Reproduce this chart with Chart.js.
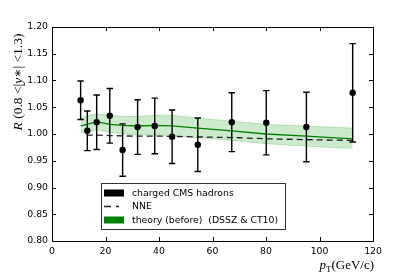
<!DOCTYPE html>
<html><head><meta charset="utf-8">
<script src="https://cdn.jsdelivr.net/npm/chart.js@4.4.1/dist/chart.umd.min.js"></script>
<style>html,body{margin:0;padding:0;background:#fff}canvas{display:block}</style>
</head><body>
<canvas id="c" width="415" height="277"></canvas>
<script>
// ---- data ----
const pt = [10.7, 13.2, 16.7, 21.6, 26.4, 32.0, 38.4, 44.9, 54.5, 67.2, 80.1, 95.1, 112.4];
const ratio = [1.063, 1.006, 1.022, 1.034, 0.970, 1.013, 1.015, 0.995, 0.980, 1.022, 1.021, 1.013, 1.077];
const ratioErr = [0.036, 0.037, 0.051, 0.051, 0.049, 0.051, 0.052, 0.050, 0.050, 0.055, 0.060, 0.065, 0.092];
const theoryMid = [1.015, 1.018, 1.023, 1.018, 1.016, 1.015, 1.016, 1.015, 1.011, 1.006, 1.000, 0.996, 0.991];
const theoryHigh = [1.030, 1.034, 1.038, 1.035, 1.033, 1.033, 1.035, 1.035, 1.030, 1.024, 1.018, 1.015, 1.011];
const theoryLow = [1.002, 1.004, 1.008, 1.003, 1.000, 0.998, 0.998, 0.997, 0.993, 0.988, 0.982, 0.977, 0.973];
const nnePt = [13, 17, 22, 30, 40, 50, 60, 70, 80, 90, 100, 112.4];
const nneR = [0.998, 0.998, 0.997, 0.996, 0.996, 0.995, 0.994, 0.993, 0.991, 0.990, 0.989, 0.988];
const xTicks = [0, 20, 40, 60, 80, 100, 120];
const yTicks = [0.80, 0.85, 0.90, 0.95, 1.00, 1.05, 1.10, 1.15, 1.20];
const legendLabels = ["charged CMS hadrons", "NNE", "theory (before)  (DSSZ & CT10)"];

const pts = (xs, ys) => xs.map((x, i) => ({x: x, y: ys[i]}));
const TICKFONT = {family: "'DejaVu Sans'", size: 9.3};

const decor = {
  id: 'decor',
  afterDatasetsDraw(chart) {
    const ctx = chart.ctx, xs = chart.scales.x, ys = chart.scales.y;
    ctx.save();
    ctx.strokeStyle = '#000'; ctx.lineWidth = 1.4;
    pt.forEach((x, i) => {
      const px = xs.getPixelForValue(x);
      const top = ys.getPixelForValue(ratio[i] + ratioErr[i]);
      const bot = ys.getPixelForValue(ratio[i] - ratioErr[i]);
      ctx.beginPath();
      ctx.moveTo(px, top); ctx.lineTo(px, bot);
      ctx.moveTo(px - 3.2, top); ctx.lineTo(px + 3.2, top);
      ctx.moveTo(px - 3.2, bot); ctx.lineTo(px + 3.2, bot);
      ctx.stroke();
    });
    ctx.restore();
  },
  afterDraw(chart) {
    const ctx = chart.ctx, a = chart.chartArea, xs = chart.scales.x, ys = chart.scales.y;
    ctx.save();
    ctx.strokeStyle = '#000'; ctx.lineWidth = 1;
    ctx.strokeRect(Math.round(a.left) + 0.5, Math.round(a.top) + 0.5, Math.round(a.right - a.left), Math.round(a.bottom - a.top));
    ctx.beginPath();
    xTicks.forEach(v => {
      const p = Math.round(xs.getPixelForValue(v)) + 0.5;
      ctx.moveTo(p, a.bottom); ctx.lineTo(p, a.bottom - 4);
      ctx.moveTo(p, a.top); ctx.lineTo(p, a.top + 4);
    });
    yTicks.forEach(v => {
      const p = Math.round(ys.getPixelForValue(v)) + 0.5;
      ctx.moveTo(a.left, p); ctx.lineTo(a.left + 4, p);
      ctx.moveTo(a.right, p); ctx.lineTo(a.right - 4, p);
    });
    ctx.stroke();

    // legend
    const lx = 101, ly = 183, lw = 184, lh = 46;
    ctx.fillStyle = '#fff';
    ctx.fillRect(lx, ly, lw, lh);
    ctx.strokeStyle = '#333'; ctx.lineWidth = 1;
    ctx.strokeRect(lx + 0.5, ly + 0.5, lw, lh);
    const rows = [193, 206, 220];
    ctx.fillStyle = '#000';
    ctx.fillRect(104, rows[0] - 3.5, 20, 7);
    ctx.strokeStyle = '#222'; ctx.lineWidth = 1.3;
    ctx.setLineDash([7, 5]);
    ctx.beginPath(); ctx.moveTo(104, rows[1] + 0.5); ctx.lineTo(119, rows[1] + 0.5); ctx.stroke();
    ctx.setLineDash([]);
    ctx.fillStyle = '#008000';
    ctx.fillRect(104, rows[2] - 3.5, 20, 7);
    ctx.fillStyle = '#000';
    ctx.font = "9.3px 'DejaVu Sans'";
    ctx.textBaseline = 'middle'; ctx.textAlign = 'left';
    legendLabels.forEach((t, i) => ctx.fillText(t, 132, rows[i] + 0.5));

    // x axis title: p_T(GeV/c)
    const serif = "'Liberation Serif', 'DejaVu Serif', serif";
    ctx.textBaseline = 'alphabetic';
    const parts = [
      {t: 'p', f: 'italic 13px ' + serif, dy: 0},
      {t: 'T', f: '9px ' + serif, dy: 2.5},
      {t: '(GeV/c)', f: '13px ' + serif, dy: 0}
    ];
    let tot = 0;
    parts.forEach(p => { ctx.font = p.f; p.w = ctx.measureText(p.t).width; tot += p.w; });
    let cx = a.right + 1 - tot;
    parts.forEach(p => { ctx.font = p.f; ctx.fillText(p.t, cx, 269 + p.dy); cx += p.w; });

    // y axis title: R (0.8 <|y*| <1.3)
    ctx.save();
    ctx.translate(21.5, 82);
    ctx.rotate(-Math.PI / 2);
    const yparts = [
      {t: 'R', f: 'italic 13.5px ' + serif},
      {t: ' (0.8 <|', f: '13.5px ' + serif},
      {t: 'y', f: 'italic 13.5px ' + serif},
      {t: '\u2217| <1.3)', f: '13.5px ' + serif}
    ];
    let ytot = 0;
    yparts.forEach(p => { ctx.font = p.f; p.w = ctx.measureText(p.t).width; ytot += p.w; });
    let yx = -ytot / 2;
    yparts.forEach(p => { ctx.font = p.f; ctx.fillText(p.t, yx, 0); yx += p.w; });
    ctx.restore();
    ctx.restore();
  }
};

new Chart(document.getElementById('c'), {
  type: 'scatter',
  data: {
    datasets: [
      {label: 'band-high', data: pts(pt, theoryHigh), showLine: true, fill: '+1',
       backgroundColor: 'rgba(0,150,0,0.2)', borderColor: 'rgba(0,150,0,0.25)', borderWidth: 0.8,
       pointRadius: 0, tension: 0, order: 5},
      {label: 'band-low', data: pts(pt, theoryLow), showLine: true, fill: false,
       borderColor: 'rgba(0,150,0,0.25)', borderWidth: 0.8, pointRadius: 0, tension: 0, order: 4},
      {label: 'theory', data: pts(pt, theoryMid), showLine: true, fill: false,
       borderColor: '#008000', borderWidth: 1.3, pointRadius: 0, tension: 0, order: 3},
      {label: 'NNE', data: pts(nnePt, nneR), showLine: true, fill: false,
       borderColor: '#222', borderWidth: 1.3, borderDash: [6, 4], pointRadius: 0, tension: 0, order: 2},
      {label: 'CMS', data: pts(pt, ratio), showLine: false,
       backgroundColor: '#000', borderColor: '#000', pointRadius: 3.2, pointBorderWidth: 0, order: 1}
    ]
  },
  options: {
    responsive: false, animation: false, devicePixelRatio: 1,
    layout: {padding: {left: 0, right: 42, top: 27, bottom: 0}},
    plugins: {legend: {display: false}, tooltip: {enabled: false}},
    scales: {
      x: {
        type: 'linear', min: 0, max: 120,
        afterBuildTicks: s => { s.ticks = xTicks.map(v => ({value: v})); },
        afterFit: s => { s.height = 36; },
        grid: {display: false, drawTicks: false},
        border: {display: true, color: '#000', width: 1},
        ticks: {color: '#000', font: TICKFONT, padding: 5, maxRotation: 0, callback: v => String(v)}
      },
      y: {
        type: 'linear', min: 0.8, max: 1.2,
        afterBuildTicks: s => { s.ticks = yTicks.map(v => ({value: v})); },
        afterFit: s => { s.width = 52; },
        grid: {display: false, drawTicks: false},
        border: {display: true, color: '#000', width: 1},
        ticks: {color: '#000', font: TICKFONT, padding: 4, callback: v => Number(v).toFixed(2)}
      }
    }
  },
  plugins: [decor]
});
</script>
</body></html>
